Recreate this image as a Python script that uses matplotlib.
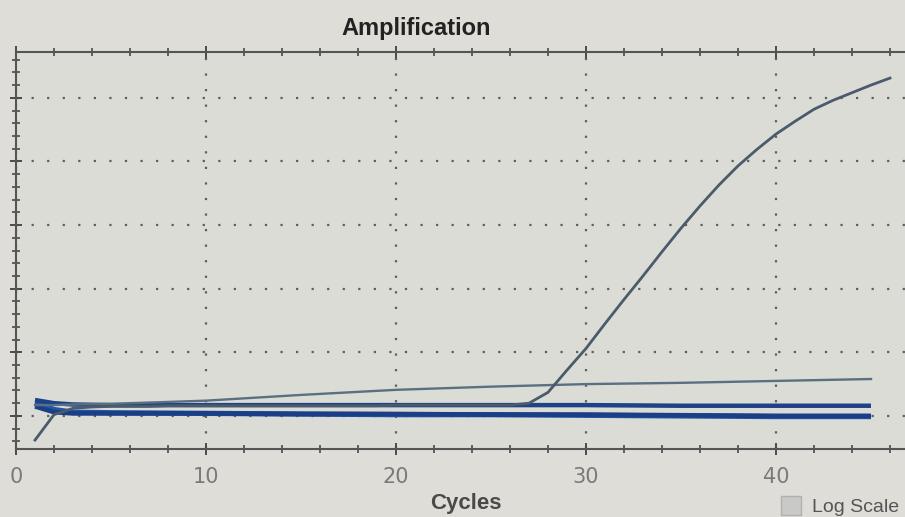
import numpy as np
import matplotlib
matplotlib.use("Agg")
import matplotlib.pyplot as plt
from matplotlib.ticker import MultipleLocator

# fluorescence (arbitrary units, one grid step = 1)
amp_cycles = list(range(1, 47))
amp_values = [0.62, 1.02, 1.12, 1.14, 1.15, 1.15, 1.15, 1.16, 1.16, 1.16,
              1.16, 1.16, 1.16, 1.16, 1.16, 1.16, 1.16, 1.16, 1.16, 1.17,
              1.17, 1.17, 1.17, 1.17, 1.17, 1.17, 1.20, 1.37, 1.72, 2.06,
              2.45, 2.83, 3.20, 3.58, 3.95, 4.30, 4.63, 4.93, 5.19, 5.43,
              5.63, 5.82, 5.96, 6.08, 6.20, 6.31]

key_cycles = [1, 2, 3, 5, 10, 15, 20, 25, 30, 35, 40, 45]
drift_values = [1.17, 1.17, 1.18, 1.19, 1.24, 1.33, 1.41, 1.46, 1.50, 1.52, 1.55, 1.58]
blue_upper = [1.25, 1.20, 1.18, 1.17, 1.17, 1.17, 1.17, 1.17, 1.17, 1.16, 1.16, 1.16]
blue_lower = [1.15, 1.06, 1.04, 1.04, 1.04, 1.03, 1.03, 1.02, 1.02, 1.01, 1.00, 1.00]
blue_mid = [1.21, 1.10, 1.06, 1.05, 1.04, 1.03, 1.02, 1.02, 1.01, 1.00, 0.99, 0.99]

x_ticks = [0, 10, 20, 30, 40]

fig = plt.figure(figsize=(9.05, 5.17), dpi=100, facecolor="#dfddd8")
ax = fig.add_axes([16 / 905, 68 / 517, 889 / 905, 397 / 517], facecolor="#dcdcd6")

ax.plot(key_cycles, blue_mid, color="#2256a8", linewidth=3.8, solid_capstyle="butt")
ax.plot(key_cycles, blue_lower, color="#1b3f86", linewidth=3.4, solid_capstyle="butt")
ax.plot(key_cycles, blue_upper, color="#1d4288", linewidth=3.2, solid_capstyle="butt")
ax.plot(key_cycles, drift_values, color="#5b6f82", linewidth=1.7)
ax.plot(amp_cycles, amp_values, color="#4b5b6c", linewidth=2.0)

ax.set_xlim(0, 889 / 19)
ax.set_ylim(0.48, 6.72)

ax.xaxis.set_major_locator(MultipleLocator(10))
ax.xaxis.set_minor_locator(MultipleLocator(2))
ax.yaxis.set_major_locator(MultipleLocator(1))
ax.yaxis.set_minor_locator(MultipleLocator(0.2))
ax.set_xticks(x_ticks)
ax.set_xticklabels([str(t) for t in x_ticks])
ax.set_yticklabels([])

ax.grid(True, which="major", color="#5e5e5e", linestyle=(0, (1, 6)), linewidth=1.6)

ax.tick_params(which="both", direction="inout", top=True, color="#4a4a4a")
ax.tick_params(which="major", length=8, width=1.4)
ax.tick_params(which="minor", length=6, width=1.2)
ax.tick_params(axis="x", which="major", labelsize=15, labelcolor="#7a7a7a", pad=9)
ax.tick_params(axis="y", which="both", left=True, labelleft=False)

for side in ["left", "bottom", "top"]:
    ax.spines[side].set_color("#555555")
    ax.spines[side].set_linewidth(1.5)
ax.spines["right"].set_visible(False)

fig.text(416 / 905, 1 - 28 / 517, "Amplification", ha="center", va="center",
         fontsize=17, fontweight="bold", color="#222222", family="Liberation Sans")
fig.text(466 / 905, 1 - 504 / 517, "Cycles", ha="center", va="center",
         fontsize=16, fontweight="bold", color="#4a4a4a", family="Liberation Sans")

# the "Log Scale" checkbox at the bottom right
fig.patches.append(plt.Rectangle((781 / 905, 2 / 517), 20 / 905, 19 / 517,
                                 transform=fig.transFigure, facecolor="#c9c9c7",
                                 edgecolor="#b0b0ae", linewidth=1))
fig.text(812 / 905, 1 - 507 / 517, "Log Scale", ha="left", va="center",
         fontsize=14, color="#555555", family="Liberation Sans")

fig.savefig("out.png", dpi=100, facecolor=fig.get_facecolor())
